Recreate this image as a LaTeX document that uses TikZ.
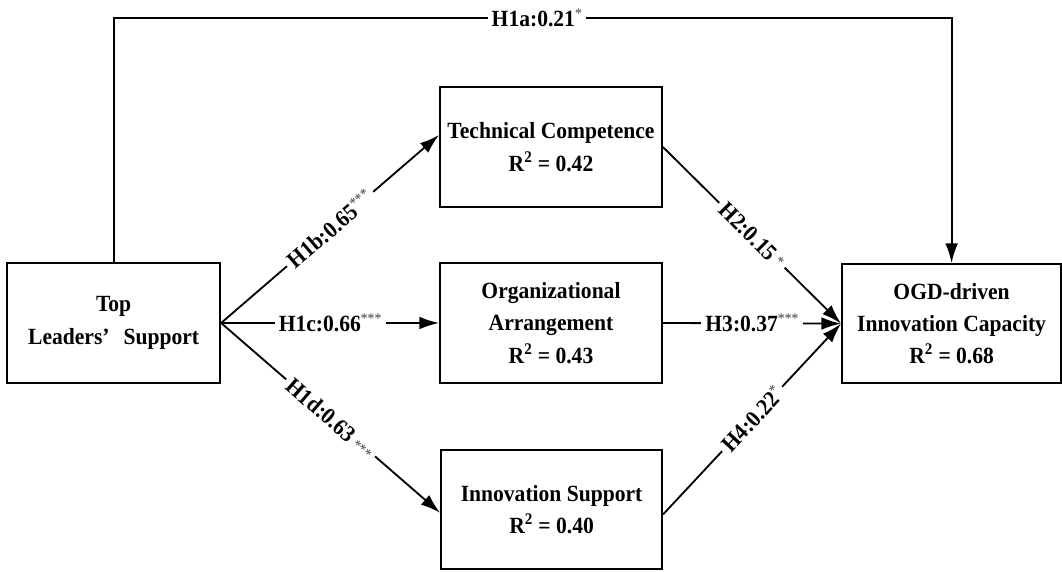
\documentclass[tikz,border=0pt]{standalone}
\usepackage{fontspec}
\setmainfont{Liberation Serif}[FakeStretch=0.93]
\usetikzlibrary{arrows.meta}
\newcommand{\sig}[2][0.75ex]{\raisebox{#1}{\fontsize{10.5}{10.5}\selectfont\mdseries\color{black!75}#2}}

\begin{document}
\begin{tikzpicture}[box/.style={draw,line width=1.3pt,minimum width=5.5cm,minimum height=3cm,align=center,inner sep=2pt,font=\fontsize{16.5}{23}\selectfont\bfseries},
    link/.style={line width=1.3pt,-{Latex[length=14pt,width=9pt]}},
    coef/.style={fill=white,inner sep=3pt,font=\fontsize{16.5}{18}\selectfont\bfseries}]
    \useasboundingbox (0,0) rectangle (26.55,14.3);
    \node[box,minimum width=5.33cm] at (2.84,6.225) (tls) {Top\\Leaders’\hspace{0.6em}Support};
    \node[box,minimum width=5.55cm] at (13.775,10.625) (tc) {Technical Competence\\R\textsuperscript{2} = 0.42};
    \node[box,minimum width=5.55cm] at (13.775,6.225) (oa) {Organizational\\Arrangement\\R\textsuperscript{2} = 0.43};
    \node[box,minimum width=5.53cm,minimum height=2.98cm] at (13.79,1.56) (is) {Innovation Support\\R\textsuperscript{2} = 0.40};
    \node[box,minimum width=5.48cm,minimum height=2.98cm] at (23.79,6.21) (ogd) {OGD-driven\\Innovation Capacity\\R\textsuperscript{2} = 0.68};
    \coordinate (top) at (13.42,13.85);

    \draw[link] (tls.north) |- (top) node[coef] (h1a) {H1a:0.21\sig{*}} -| (ogd.north);
    \draw[link] (tls.east) -- node[coef,sloped] (h1b) {H1b:0.65\sig{***}} ([yshift=0.3cm]tc.west);
    \draw[link] (tls.east) -- node[coef] (h1c) {H1c:0.66\sig{***}} (oa.west);
    \draw[link] (tls.east) -- node[coef,sloped] (h1d) {H1d:0.63\,\sig[0pt]{***}} ([yshift=-0.08cm]is.west);
    \draw[link] (tc.east) -- node[coef,sloped] (h2) {H2:0.15\,\sig[0.3ex]{*}} (ogd.west);
    \draw[link] (oa.east) -- node[coef] (h3) {H3:0.37\sig{***}} (ogd.west);
    \draw[link] ([yshift=-0.12cm]is.east) -- node[coef,sloped] (h4) {H4:0.22\sig{*}} (ogd.west);
  \end{tikzpicture}
\end{document}
